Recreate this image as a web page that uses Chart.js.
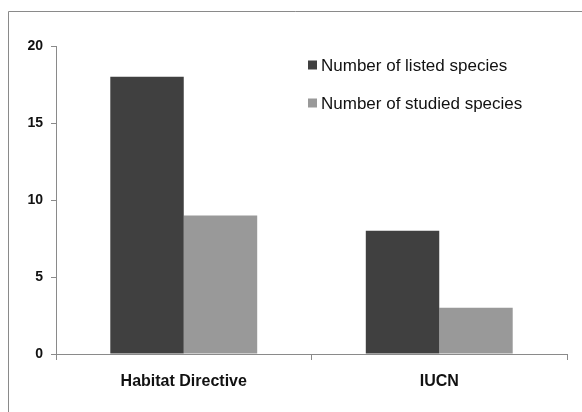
<!DOCTYPE html>
<html>
<head>
<meta charset="utf-8">
<script src="https://cdn.jsdelivr.net/npm/chart.js@4"></script>
<style>
html,body{margin:0;padding:0;background:#fff;}
#wrap{position:relative;width:582px;height:412px;}
</style>
</head>
<body>
<div id="wrap"><canvas id="c" width="582" height="412"></canvas></div>
<script>
const categories = ["Habitat Directive", "IUCN"];
const seriesNames = ["Number of listed species", "Number of studied species"];
const listedSpecies = [18, 8];
const studiedSpecies = [9, 3];
const yTicks = [0, 5, 10, 15, 20];

const frame = {
  id: 'frame',
  beforeDraw(chart) {
    const ctx = chart.ctx;
    ctx.save();
    ctx.strokeStyle = '#8a8a8a';
    ctx.lineWidth = 1;
    ctx.beginPath();
    ctx.moveTo(8.5, 412);
    ctx.lineTo(8.5, 11.5);
    ctx.lineTo(582, 11.5);
    ctx.stroke();
    ctx.restore();
  }
};

const insideLegend = {
  id: 'insideLegend',
  afterDraw(chart) {
    const ctx = chart.ctx;
    ctx.save();
    ctx.font = '17px "Liberation Sans", Arial, sans-serif';
    ctx.textBaseline = 'middle';
    const rows = [65, 103];
    chart.data.datasets.forEach((ds, i) => {
      ctx.fillStyle = ds.backgroundColor;
      ctx.fillRect(308, rows[i] - 4.5, 9, 9);
      ctx.fillStyle = '#111';
      ctx.fillText(ds.label, 321, rows[i] + 1);
    });
    ctx.restore();
  }
};

new Chart(document.getElementById('c'), {
  type: 'bar',
  data: {
    labels: categories,
    datasets: [
      { label: seriesNames[0], data: listedSpecies, backgroundColor: '#404040', borderWidth: 0 },
      { label: seriesNames[1], data: studiedSpecies, backgroundColor: '#999999', borderWidth: 0 }
    ]
  },
  options: {
    responsive: false,
    animation: false,
    devicePixelRatio: 1,
    layout: { padding: { left: 0, right: 15, top: 46, bottom: 0 } },
    plugins: { legend: { display: false }, tooltip: { enabled: false } },
    datasets: { bar: { categoryPercentage: 0.575, barPercentage: 1.0 } },
    scales: {
      x: {
        afterFit(s) { s.height = 58; },
        grid: { display: true, drawOnChartArea: false, drawTicks: true, tickLength: 6, color: '#8a8a8a', offset: true },
        border: { display: true, color: '#8a8a8a', width: 1 },
        ticks: { color: '#111', padding: 12, font: { family: '"Liberation Sans", Arial, sans-serif', size: 16, weight: 'bold' } }
      },
      y: {
        min: 0, max: 20,
        afterFit(s) { s.width = 56; },
        afterBuildTicks(s) { s.ticks = yTicks.map(v => ({ value: v })); },
        grid: { display: true, drawOnChartArea: false, drawTicks: true, tickLength: 5, color: '#8a8a8a' },
        border: { display: true, color: '#8a8a8a', width: 1 },
        ticks: { color: '#111', padding: 8, font: { family: '"Liberation Sans", Arial, sans-serif', size: 14, weight: 'bold' } }
      }
    }
  },
  plugins: [frame, insideLegend]
});
</script>
</body>
</html>
